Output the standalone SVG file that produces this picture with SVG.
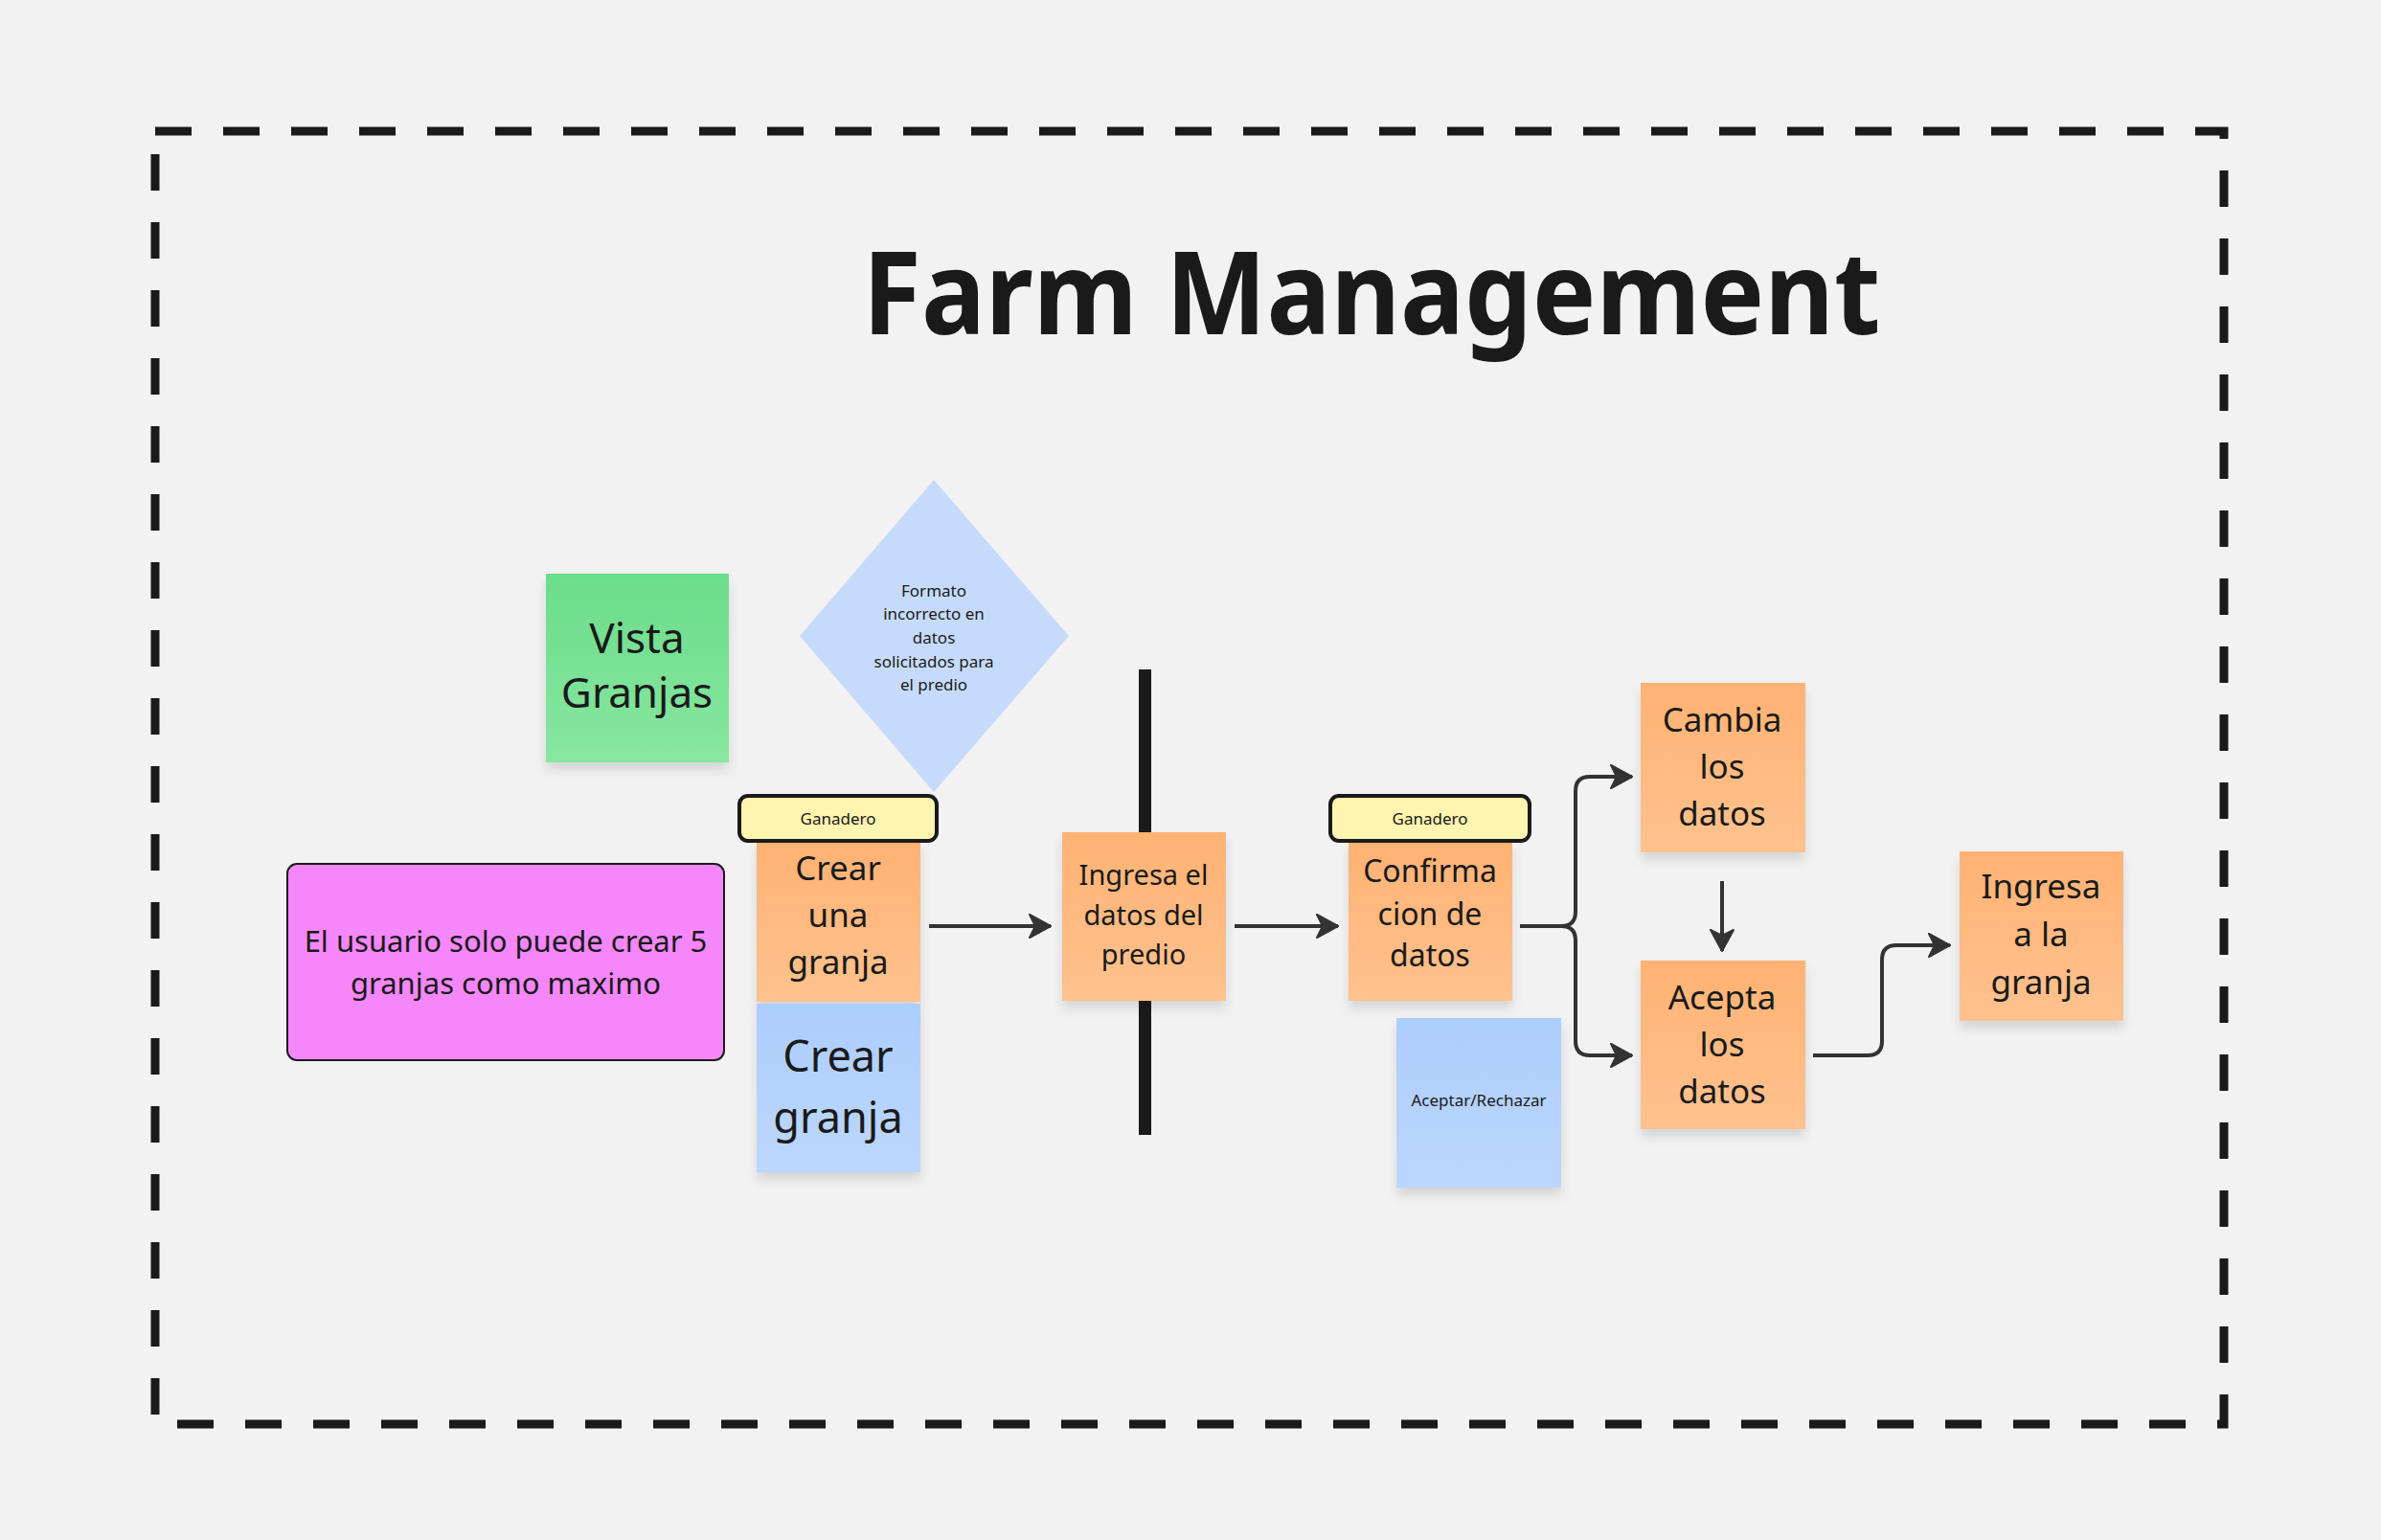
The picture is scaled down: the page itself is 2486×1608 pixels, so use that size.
<svg xmlns="http://www.w3.org/2000/svg" width="2486" height="1608" viewBox="0 0 2486 1608">
<style>
text{font-family:"Noto Sans","Open Sans","DejaVu Sans",sans-serif;fill:#1a1a1a;text-anchor:middle}
.conn{fill:none;stroke:#333;stroke-width:4;stroke-linecap:butt}
.lbl{fill:#fff4b0;stroke:#1a1a1a;stroke-width:4}
.orange{fill:url(#gOr)}
.blue{fill:url(#gBl)}
</style>
<defs>
<linearGradient id="gOr" x1="0" y1="0" x2="0" y2="1"><stop offset="0" stop-color="#ffb273"/><stop offset="1" stop-color="#ffc28e"/></linearGradient>
<linearGradient id="gBl" x1="0" y1="0" x2="0" y2="1"><stop offset="0" stop-color="#adcdfc"/><stop offset="1" stop-color="#bcd7fd"/></linearGradient>
<linearGradient id="gGr" x1="0" y1="0" x2="0" y2="1"><stop offset="0" stop-color="#6bdd89"/><stop offset="1" stop-color="#88e6a1"/></linearGradient>
<filter id="sh" x="-20%" y="-20%" width="140%" height="150%"><feDropShadow dx="0" dy="8" stdDeviation="6" flood-color="#000" flood-opacity="0.12"/></filter>
<marker id="ah" markerUnits="userSpaceOnUse" markerWidth="26" markerHeight="28" refX="24" refY="14" orient="auto" viewBox="0 0 26 28">
<path d="M2,2 L24,14 L2,26 L8,14 Z" fill="#333" stroke="#333" stroke-width="2" stroke-linejoin="round"/>
</marker>
</defs>
<rect width="2486" height="1608" fill="#f2f2f2"/>
<rect id="frame" x="162" y="137" width="2160" height="1350" fill="none" stroke="#1a1a1a" stroke-width="9" stroke-dasharray="38 33"/>
<text id="title" x="1432" y="349" font-size="120" font-weight="700" textLength="1063" lengthAdjust="spacingAndGlyphs">Farm Management</text>

<g id="connectors">
<path class="conn" d="M970 967 H1097" marker-end="url(#ah)"/>
<path class="conn" d="M1289 967 H1397" marker-end="url(#ah)"/>
<path class="conn" d="M1587 967 H1630 Q1645 967 1645 952 V826 Q1645 811 1660 811 H1704" marker-end="url(#ah)"/>
<path class="conn" d="M1630 967 Q1645 967 1645 982 V1087 Q1645 1102 1660 1102 H1704" marker-end="url(#ah)"/>
<path class="conn" d="M1798 920 V993" marker-end="url(#ah)"/>
<path class="conn" d="M1893 1102 H1950 Q1965 1102 1965 1087 V1002 Q1965 987 1980 987 H2036" marker-end="url(#ah)"/>
</g>

<g id="bar"><rect x="1189" y="699" width="13" height="486" fill="#1a1a1a"/></g>

<g id="vista-granjas">
<rect x="570" y="599" width="191" height="197" fill="url(#gGr)" filter="url(#sh)"/>
<text x="665" y="682" font-size="44">Vista</text>
<text x="665" y="739" font-size="44">Granjas</text>
</g>

<g id="formato">
<polygon points="975,501 1116,664 975,827 835,664" fill="#c6dbfb"/>
<text x="975" y="623" font-size="17">Formato</text>
<text x="975" y="647" font-size="17">incorrecto en</text>
<text x="975" y="672" font-size="17">datos</text>
<text x="975" y="697" font-size="17">solicitados para</text>
<text x="975" y="721" font-size="17">el predio</text>
</g>

<g id="limite">
<rect x="300" y="902" width="456" height="205" rx="10" fill="#f587fa" stroke="#1a1a1a" stroke-width="2"/>
<text x="528" y="994" font-size="31">El usuario solo puede crear 5</text>
<text x="528" y="1038" font-size="31">granjas como maximo</text>
</g>

<g id="crear-una-granja">
<rect class="orange" x="790" y="879" width="171" height="167" filter="url(#sh)"/>
<text x="875" y="919" font-size="35">Crear</text>
<text x="875" y="968" font-size="35">una</text>
<text x="875" y="1017" font-size="35">granja</text>
</g>

<g id="ganadero-1">
<rect class="lbl" x="772" y="831" width="206" height="47" rx="9"/>
<text x="875" y="861" font-size="17">Ganadero</text>
</g>

<g id="crear-granja">
<rect class="blue" x="790" y="1048" width="171" height="176" filter="url(#sh)"/>
<text x="875" y="1119" font-size="45">Crear</text>
<text x="875" y="1183" font-size="45">granja</text>
</g>

<g id="ingresa-datos">
<rect class="orange" x="1109" y="869" width="171" height="176" filter="url(#sh)"/>
<text x="1194" y="924" font-size="29">Ingresa el</text>
<text x="1194" y="966" font-size="29">datos del</text>
<text x="1194" y="1007" font-size="29">predio</text>
</g>

<g id="confirmacion">
<rect class="orange" x="1408" y="879" width="171" height="166" filter="url(#sh)"/>
<text x="1493" y="921" font-size="32">Confirma</text>
<text x="1493" y="966" font-size="32">cion de</text>
<text x="1493" y="1009" font-size="32">datos</text>
</g>

<g id="ganadero-2">
<rect class="lbl" x="1389" y="831" width="208" height="47" rx="9"/>
<text x="1493" y="861" font-size="17">Ganadero</text>
</g>

<g id="aceptar-rechazar">
<rect class="blue" x="1458" y="1063" width="172" height="177" filter="url(#sh)"/>
<text x="1544" y="1155" font-size="17">Aceptar/Rechazar</text>
</g>

<g id="cambia">
<rect class="orange" x="1713" y="713" width="172" height="177" filter="url(#sh)"/>
<text x="1798" y="764" font-size="35">Cambia</text>
<text x="1798" y="813" font-size="35">los</text>
<text x="1798" y="862" font-size="35">datos</text>
</g>

<g id="acepta">
<rect class="orange" x="1713" y="1003" width="172" height="176" filter="url(#sh)"/>
<text x="1798" y="1054" font-size="35">Acepta</text>
<text x="1798" y="1103" font-size="35">los</text>
<text x="1798" y="1152" font-size="35">datos</text>
</g>

<g id="ingresa-granja">
<rect class="orange" x="2046" y="889" width="171" height="177" filter="url(#sh)"/>
<text x="2131" y="938" font-size="35">Ingresa</text>
<text x="2131" y="988" font-size="35">a la</text>
<text x="2131" y="1038" font-size="35">granja</text>
</g>
</svg>
